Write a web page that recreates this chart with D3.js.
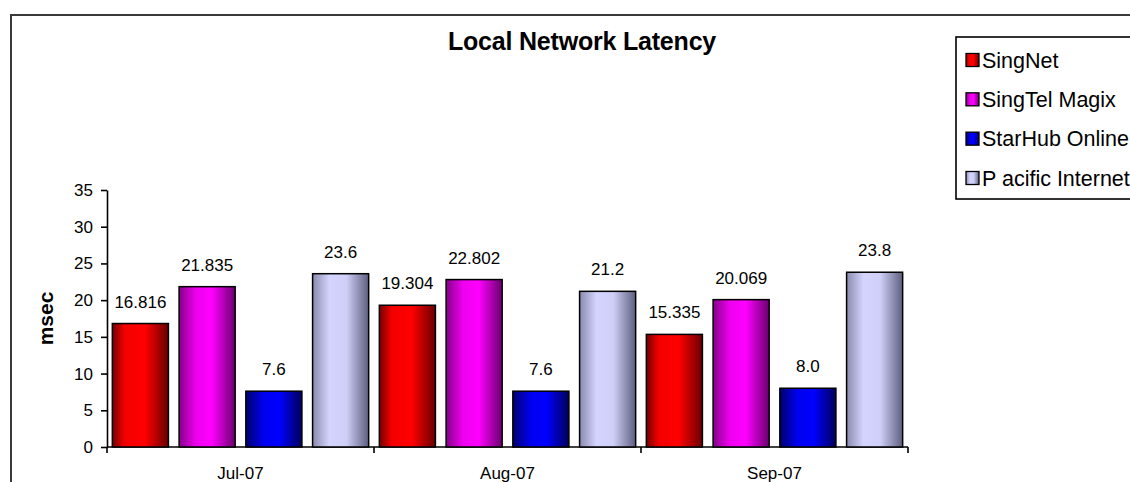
<!DOCTYPE html>
<html>
<head>
<meta charset="utf-8">
<script src="https://cdn.jsdelivr.net/npm/d3@7"></script>
<style>
  body { margin: 0; background: #fff; }
  svg { display: block; font-family: "Liberation Sans", Arial, sans-serif; }
</style>
</head>
<body>
<div id="chart"></div>
<script>
// data
var months = ["Jul-07", "Aug-07", "Sep-07"];
var providers = ["SingNet", "SingTel Magix", "StarHub Online", "P acific Internet"];
var singNet = [16.816, 19.304, 15.335];
var singTelMagix = [21.835, 22.802, 20.069];
var starHubOnline = [7.6, 7.6, 8.0];
var pacificInternet = [23.6, 21.2, 23.8];
var labelText = [
  ["16.816", "19.304", "15.335"],
  ["21.835", "22.802", "20.069"],
  ["7.6", "7.6", "8.0"],
  ["23.6", "21.2", "23.8"]
];
var yTicks = [0, 5, 10, 15, 20, 25, 30, 35];

var seriesValues = [singNet, singTelMagix, starHubOnline, pacificInternet];

// gradient stops for each series (dark edges, bright middle)
var grads = [
  [["0%", "#760000"], ["22%", "#f40000"], ["58%", "#ff0000"], ["100%", "#680000"]],
  [["0%", "#86008a"], ["30%", "#ee00ee"], ["58%", "#ff00ff"], ["100%", "#6a006e"]],
  [["0%", "#000070"], ["32%", "#0000f0"], ["60%", "#0000ff"], ["100%", "#00005a"]],
  [["0%", "#8a8aae"], ["30%", "#d4d4ff"], ["60%", "#cfcff8"], ["100%", "#5e5e80"]]
];

var svg = d3.select("#chart").append("svg")
  .attr("width", 1130)
  .attr("height", 482);

var defs = svg.append("defs");
grads.forEach(function (stops, i) {
  var g = defs.append("linearGradient")
    .attr("id", "grad" + i)
    .attr("x1", "0%").attr("x2", "100%")
    .attr("y1", "0%").attr("y2", "0%");
  stops.forEach(function (s) {
    g.append("stop").attr("offset", s[0]).attr("stop-color", s[1]);
  });
});

// chart area border (runs off the picture on the right and bottom)
svg.append("rect")
  .attr("x", 11).attr("y", 15)
  .attr("width", 1140).attr("height", 500)
  .style("fill", "none")
  .style("stroke", "#3a3a3a")
  .style("stroke-width", 2);

// title
svg.append("text")
  .attr("x", 582).attr("y", 50)
  .attr("text-anchor", "middle")
  .style("font-size", "25px")
  .style("font-weight", "bold")
  .style("letter-spacing", "-0.2px")
  .text("Local Network Latency");

var plotLeft = 107, plotRight = 908, plotTop = 190, plotBottom = 447;

var x0 = d3.scaleBand()
  .domain(months)
  .range([plotLeft, plotRight]);

var x1 = d3.scaleBand()
  .domain(d3.range(providers.length))
  .range([0, x0.bandwidth()])
  .paddingInner(0.16)
  .paddingOuter(0.08);

var y = d3.scaleLinear()
  .domain([0, 35])
  .range([plotBottom, plotTop]);

// y axis
var yAxis = svg.append("g")
  .attr("transform", "translate(" + plotLeft + ",0)")
  .call(d3.axisLeft(y).tickValues(yTicks).tickSize(6).tickPadding(8).tickSizeOuter(0));
yAxis.select(".domain").style("stroke", "#000").style("stroke-width", 1.6);
yAxis.selectAll(".tick line").style("stroke", "#000").style("stroke-width", 1.6);
yAxis.selectAll("text")
  .style("font-size", "17px")
  .style("font-family", "Liberation Sans, Arial, sans-serif")
  .style("fill", "#000");

// x axis: ticks on category boundaries
svg.append("line")
  .attr("x1", plotLeft).attr("x2", plotRight)
  .attr("y1", plotBottom).attr("y2", plotBottom)
  .style("stroke", "#000").style("stroke-width", 1.6);

var bounds = months.map(function (m) { return x0(m); }).concat([plotRight]);
svg.selectAll(".xtick")
  .data(bounds)
  .enter()
  .append("line")
  .attr("x1", function (d) { return d; })
  .attr("x2", function (d) { return d; })
  .attr("y1", plotBottom)
  .attr("y2", plotBottom + 6)
  .style("stroke", "#000").style("stroke-width", 1.6);

svg.selectAll(".xlabel")
  .data(months)
  .enter()
  .append("text")
  .attr("x", function (d) { return x0(d) + x0.bandwidth() / 2; })
  .attr("y", 479)
  .attr("text-anchor", "middle")
  .style("font-size", "17px")
  .text(function (d) { return d; });

// y axis title
svg.append("text")
  .attr("transform", "translate(53," + ((plotTop + plotBottom) / 2) + ") rotate(-90)")
  .attr("text-anchor", "middle")
  .style("font-size", "21px")
  .style("font-weight", "bold")
  .text("msec");

// bars
var groups = svg.selectAll(".month")
  .data(months)
  .enter()
  .append("g")
  .attr("transform", function (d) { return "translate(" + x0(d) + ",0)"; });

groups.selectAll("rect")
  .data(function (d, mi) {
    return seriesValues.map(function (vals, si) { return { s: si, m: mi, v: vals[mi] }; });
  })
  .enter()
  .append("rect")
  .attr("x", function (d) { return x1(d.s); })
  .attr("y", function (d) { return y(d.v); })
  .attr("width", x1.bandwidth())
  .attr("height", function (d) { return plotBottom - y(d.v); })
  .style("fill", function (d) { return "url(#grad" + d.s + ")"; })
  .style("stroke", "#000")
  .style("stroke-width", 1.5);

groups.selectAll(".lbl")
  .data(function (d, mi) {
    return seriesValues.map(function (vals, si) { return { s: si, m: mi, v: vals[mi] }; });
  })
  .enter()
  .append("text")
  .attr("x", function (d) { return x1(d.s) + x1.bandwidth() / 2; })
  .attr("y", function (d) { return y(d.v) - 16; })
  .attr("text-anchor", "middle")
  .style("font-size", "17px")
  .text(function (d) { return labelText[d.s][d.m]; });

// legend
svg.append("rect")
  .attr("x", 956).attr("y", 37)
  .attr("width", 200).attr("height", 162)
  .style("fill", "#fff")
  .style("stroke", "#000")
  .style("stroke-width", 1.6);

var ly = d3.scalePoint()
  .domain(d3.range(providers.length))
  .range([60, 178]);

svg.selectAll(".lswatch")
  .data(providers)
  .enter()
  .append("rect")
  .attr("x", 966)
  .attr("y", function (d, i) { return ly(i) - 6.5; })
  .attr("width", 13)
  .attr("height", 13)
  .style("fill", function (d, i) { return "url(#grad" + i + ")"; })
  .style("stroke", "#000")
  .style("stroke-width", 1.3);

svg.selectAll(".ltext")
  .data(providers)
  .enter()
  .append("text")
  .attr("x", 982)
  .attr("y", function (d, i) { return ly(i) + 7.5; })
  .style("font-size", "21.5px")
  .text(function (d) { return d; });
</script>
</body>
</html>
